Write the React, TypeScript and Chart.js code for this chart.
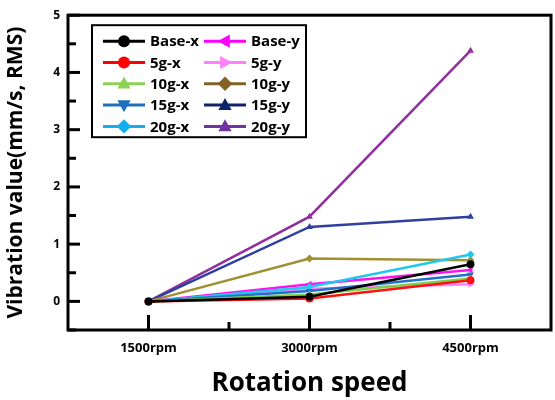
import React, { useEffect, useRef } from "react";
import { Chart, registerables } from "chart.js";

Chart.register(...registerables);

const categories = ["1500rpm", "3000rpm", "4500rpm"];

const baseX = [0, 0.08, 0.65];
const baseY = [0, 0.3, 0.55];
const g5X = [0, 0.05, 0.37];
const g5Y = [0, 0.22, 0.3];
const g10X = [0, 0.12, 0.4];
const g10Y = [0, 0.75, 0.72];
const g15X = [0, 0.18, 0.47];
const g15Y = [0, 1.3, 1.48];
const g20X = [0, 0.25, 0.82];
const g20Y = [0, 1.48, 4.38];

const yTickValues = [0, 1, 2, 3, 4, 5];

type S = { label: string; data: number[]; color: string; legendColor: string; style: string; rot: number };

const seriesX: S[] = [
  { label: "Base-x", data: baseX, color: "#000000", legendColor: "#000000", style: "circle", rot: 0 },
  { label: "5g-x", data: g5X, color: "#FF1010", legendColor: "#FF0000", style: "circle", rot: 0 },
  { label: "10g-x", data: g10X, color: "#7CCF4C", legendColor: "#8CD152", style: "triangle", rot: 0 },
  { label: "15g-x", data: g15X, color: "#2070C8", legendColor: "#1F6FBF", style: "triangle", rot: 180 },
  { label: "20g-x", data: g20X, color: "#20C8F0", legendColor: "#12AEEE", style: "rectRot", rot: 0 },
];
const seriesY: S[] = [
  { label: "Base-y", data: baseY, color: "#FF10F0", legendColor: "#FF00FF", style: "triangle", rot: -90 },
  { label: "5g-y", data: g5Y, color: "#FF80FF", legendColor: "#FF80FF", style: "triangle", rot: 90 },
  { label: "10g-y", data: g10Y, color: "#A09030", legendColor: "#836325", style: "rectRot", rot: 0 },
  { label: "15g-y", data: g15Y, color: "#3040A0", legendColor: "#0F2468", style: "triangle", rot: 0 },
  { label: "20g-y", data: g20Y, color: "#9030A0", legendColor: "#7034A0", style: "triangle", rot: 0 },
];

const FONT = "'Open Sans', 'Noto Sans', sans-serif";

function drawMarker(ctx: CanvasRenderingContext2D, style: string, rot: number, x: number, y: number, r: number, color: string) {
  ctx.save();
  ctx.translate(x, y);
  ctx.rotate((rot * Math.PI) / 180);
  ctx.fillStyle = color;
  ctx.beginPath();
  if (style === "circle") {
    ctx.arc(0, 0, r, 0, Math.PI * 2);
  } else if (style === "triangle") {
    ctx.moveTo(0, -r * 1.2);
    ctx.lineTo(r * 1.1, r * 0.8);
    ctx.lineTo(-r * 1.1, r * 0.8);
    ctx.closePath();
  } else {
    ctx.moveTo(0, -r * 1.2);
    ctx.lineTo(r * 1.2, 0);
    ctx.lineTo(0, r * 1.2);
    ctx.lineTo(-r * 1.2, 0);
    ctx.closePath();
  }
  ctx.fill();
  ctx.restore();
}

const framePlugin = {
  id: "frameTicks",
  afterDatasetsDraw(chart: any) {
    const { ctx, chartArea, scales } = chart;
    const { left, right, top, bottom } = chartArea;
    ctx.save();
    ctx.strokeStyle = "#000";
    ctx.lineWidth = 3;
    const xs = scales.x;
    for (let i = 0; i < categories.length; i++) {
      const px = xs.getPixelForValue(i);
      ctx.beginPath();
      ctx.moveTo(px, bottom);
      ctx.lineTo(px, bottom - 15);
      ctx.stroke();
      if (i < categories.length - 1) {
        const mx = (px + xs.getPixelForValue(i + 1)) / 2;
        ctx.beginPath();
        ctx.moveTo(mx, bottom);
        ctx.lineTo(mx, bottom - 8);
        ctx.stroke();
      }
    }
    const ys = scales.y;
    for (let v = ys.min; v <= ys.max + 1e-9; v += 0.5) {
      const py = ys.getPixelForValue(v);
      const major = Math.abs(v - Math.round(v)) < 1e-9;
      ctx.beginPath();
      ctx.moveTo(left, py);
      ctx.lineTo(left + (major ? 12 : 8), py);
      ctx.stroke();
    }
    ctx.strokeRect(left, top, right - left, bottom - top);
    ctx.restore();
  },
  afterDraw(chart: any) {
    const { ctx, chartArea } = chart;
    const bx = chartArea.left + 24;
    const by = chartArea.top + 10;
    const bw = 214;
    const bh = 112;
    ctx.save();
    ctx.fillStyle = "#fff";
    ctx.fillRect(bx, by, bw, bh);
    ctx.strokeStyle = "#000";
    ctx.lineWidth = 2;
    ctx.strokeRect(bx, by, bw, bh);
    ctx.font = `bold 15px ${FONT}`;
    ctx.textBaseline = "middle";
    const cols = [seriesX, seriesY];
    cols.forEach((col, ci) => {
      const x0 = bx + 11 + ci * 101;
      col.forEach((s, ri) => {
        const y = by + 16 + ri * 21.3;
        ctx.strokeStyle = s.legendColor;
        ctx.lineWidth = 3;
        ctx.beginPath();
        ctx.moveTo(x0, y);
        ctx.lineTo(x0 + 42, y);
        ctx.stroke();
        drawMarker(ctx, s.style, s.rot, x0 + 21, y, 6, s.legendColor);
        ctx.fillStyle = "#000";
        ctx.fillText(s.label, x0 + 47, y + 1);
      });
    });
    ctx.restore();
  },
};

export default function App() {
  const ref = useRef<HTMLCanvasElement>(null);
  useEffect(() => {
    if (!ref.current) return;
    const all = [...seriesX, ...seriesY];
    const chart = new Chart(ref.current, {
      type: "line",
      data: {
        labels: categories,
        datasets: all.map((s) => ({
          label: s.label,
          data: s.data,
          borderColor: s.color,
          backgroundColor: s.color,
          borderWidth: 2.5,
          pointStyle: s.style as any,
          pointRotation: s.rot,
          pointRadius: 4,
          pointBorderWidth: 0,
          tension: 0,
          fill: false,
        })),
      },
      options: {
        animation: false,
        responsive: false,
        maintainAspectRatio: false,
        layout: { padding: { left: 0, right: 4, top: 12, bottom: 0 } },
        plugins: { legend: { display: false }, tooltip: { enabled: false } },
        scales: {
          x: {
            type: "category",
            offset: true,
            grid: { display: false, drawTicks: false },
            border: { display: false },
            ticks: { color: "#000", font: { family: FONT, size: 13, weight: "bold" }, padding: 10 },
            title: {
              display: true,
              text: "Rotation speed",
              color: "#000",
              font: { family: FONT, size: 26, weight: "bold" },
              padding: { top: 0, bottom: 1 },
            },
            afterFit: (s: any) => {
              s.height = 70;
            },
          },
          y: {
            min: -0.5,
            max: 5,
            grid: { display: false, drawTicks: false },
            border: { display: false },
            ticks: {
              stepSize: 0.5,
              autoSkip: false,
              color: "#000",
              padding: 8,
              font: { family: FONT, size: 12, weight: "bold" },
              callback: (v: any) => (yTickValues.includes(Number(v)) ? String(v) : ""),
            },
            title: {
              display: true,
              text: "Vibration value(mm/s, RMS)",
              color: "#000",
              font: { family: FONT, size: 21, weight: "bold" },
              padding: { top: 3, bottom: 0 },
            },
            afterFit: (s: any) => {
              s.width = 68;
            },
          },
        },
      },
      plugins: [framePlugin],
    });
    return () => chart.destroy();
  }, []);
  return (
    <div style={{ position: "absolute", left: 0, top: 0, width: 555, height: 400, background: "#fff" }}>
      <canvas ref={ref} width={555} height={400} style={{ width: 555, height: 400 }} />
    </div>
  );
}
